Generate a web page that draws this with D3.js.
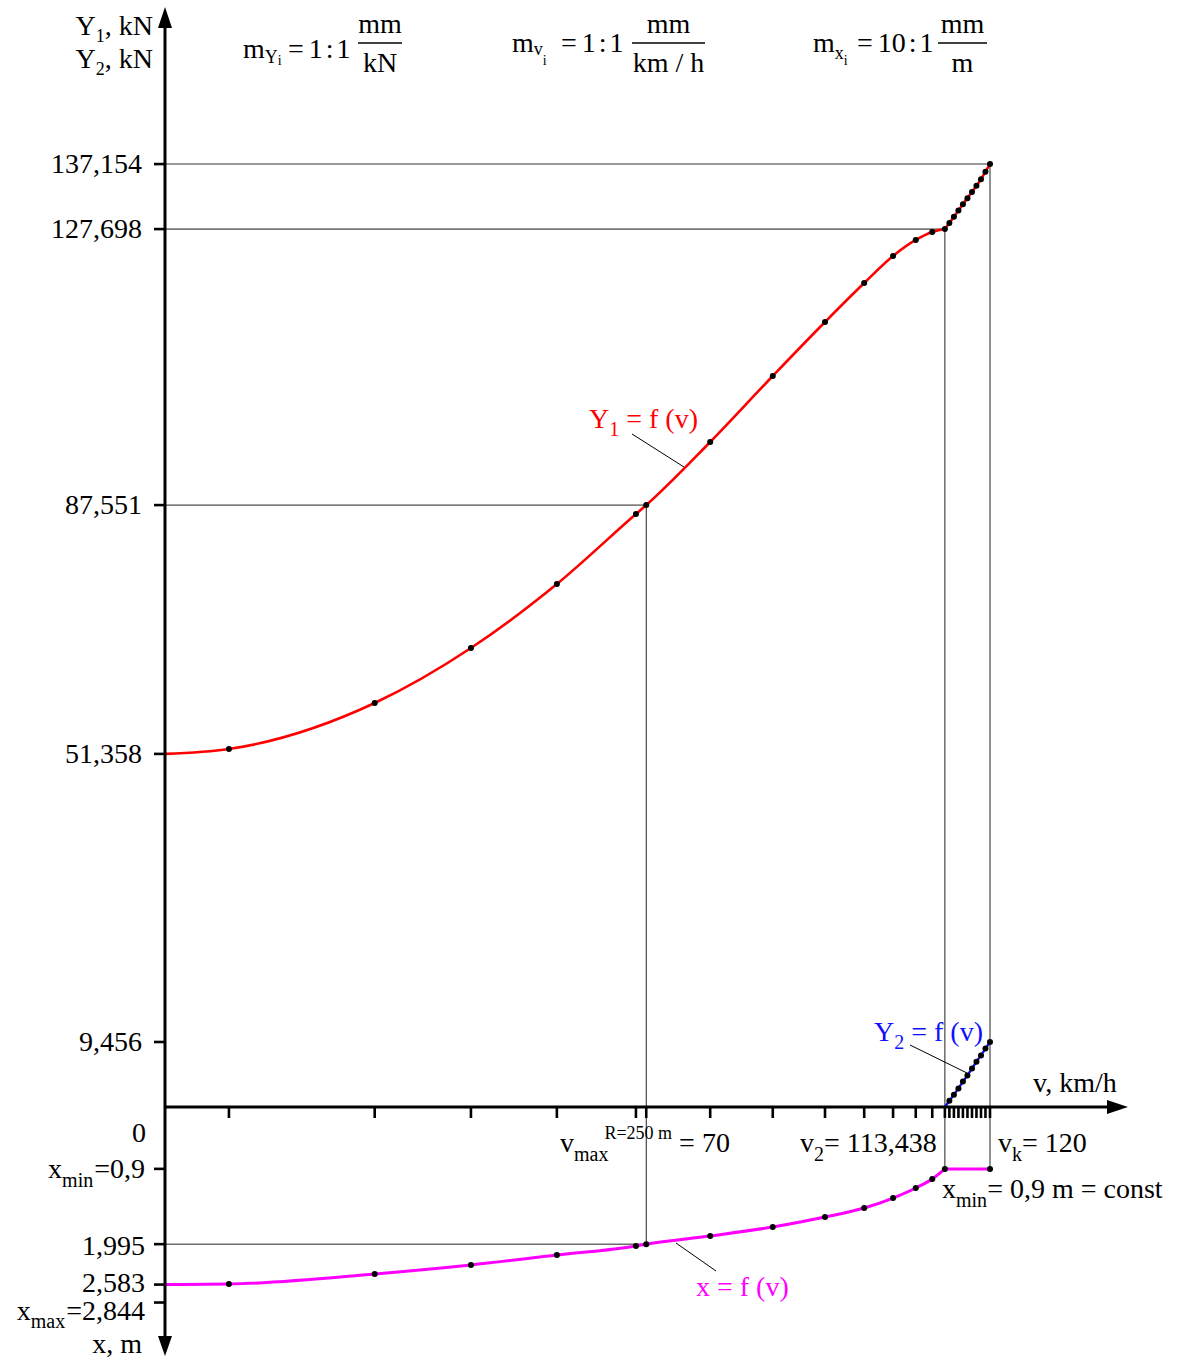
<!DOCTYPE html>
<html>
<head>
<meta charset="utf-8">
<script src="https://cdn.jsdelivr.net/npm/d3@7/dist/d3.min.js"></script>
<style>
  body { margin: 0; background: #fff; }
  svg text { font-family: "Liberation Serif", "DejaVu Serif", serif; font-size: 28px; white-space: pre; }
</style>
</head>
<body>
<svg width="1179" height="1360"></svg>
<script>
// speed points on the curves (km/h)
var speeds   = [0, 9.3, 30.5, 44.5, 57.0, 68.5, 70, 79.3, 88.4, 96.0, 101.7, 105.9, 109.2, 111.6, 113.438];
var y1Values = [51.358, 52.07, 58.76, 66.76, 76.07, 86.25, 87.551, 96.73, 106.33, 114.18, 119.85, 123.78, 126.11, 127.27, 127.698];
var xValues  = [2.583, 2.575, 2.429, 2.298, 2.153, 2.022, 1.995, 1.876, 1.745, 1.600, 1.469, 1.324, 1.178, 1.047, 0.9];

// last part, from v2 to vk
var speedsHigh = [113.438, 114.09, 114.75, 115.41, 116.06, 116.72, 117.38, 118.03, 118.69, 119.34, 120];
var y1High     = [127.698, 128.6, 129.5, 130.4, 131.3, 132.2, 133.1, 134.0, 134.95, 136.05, 137.154];
var y2High     = [0, 0.9, 1.8, 2.7, 3.7, 4.6, 5.6, 6.6, 7.5, 8.5, 9.456];
var xMin = 0.9;

// axis ticks
var yTicks = [9.456, 51.358, 87.551, 127.698, 137.154];
var yTickLabels = ["9,456", "51,358", "87,551", "127,698", "137,154"];
var xmTicks = [0.9, 1.995, 2.583, 2.844];

// Layout
var originX = 165, originY = 1107,
    pxPerUnit = 6.875;

var svg = d3.select("svg");

var vScale = d3.scaleLinear().domain([0, 120]).range([originX, originX + 120 * pxPerUnit]);
var yScale = d3.scaleLinear().domain([0, 137.154]).range([originY, originY - 137.154 * pxPerUnit]);
var xmScale = d3.scaleLinear().domain([0, 1]).range([originY, originY + 10 * pxPerUnit]);

// text with sub / superscripts
function rich(g, x, y, parts, anchor, color) {
  var t = g.append("text")
    .attr("x", x).attr("y", y)
    .attr("text-anchor", anchor || "start")
    .style("fill", color || "#000");
  var cur = 0;
  parts.forEach(function (p) {
    if (typeof p === "string") p = {t: p};
    var off = p.dy || 0;
    var ts = t.append("tspan").attr("dy", off - cur).text(p.t);
    if (p.size) ts.style("font-size", p.size + "px");
    if (p.dx) ts.attr("dx", p.dx);
    cur = off;
  });
  return t;
}

function fraction(g, x0, x1, yLine, top, bottom) {
  var cx = (x0 + x1) / 2;
  g.append("text").attr("x", cx).attr("y", yLine - 10).attr("text-anchor", "middle").text(top);
  g.append("line").attr("x1", x0).attr("x2", x1).attr("y1", yLine).attr("y2", yLine)
    .style("stroke", "#000").style("stroke-width", 1.3);
  g.append("text").attr("x", cx).attr("y", yLine + 29).attr("text-anchor", "middle").text(bottom);
}

// "a : b" written tight
function ratio(g, x, y, a, b) {
  rich(g, x, y, ["=", {t: a, dx: 5}, {t: ":", dx: 3}, {t: b, dx: 3}]);
}

// guide lines
var guides = svg.append("g").classed("guides", true);
function guide(x1, y1, x2, y2, color, w) {
  guides.append("line").attr("x1", x1).attr("y1", y1).attr("x2", x2).attr("y2", y2)
    .style("stroke", color).style("stroke-width", w);
}
var vEnd = speedsHigh[speedsHigh.length - 1], v2 = speeds[speeds.length - 1];
guide(originX, yScale(137.154), vScale(vEnd), yScale(137.154), "#777", 1.6);
guide(originX, yScale(127.698), vScale(v2), yScale(127.698), "#777", 1.6);
guide(originX, yScale(87.551), vScale(70), yScale(87.551), "#222", 1);
guide(vScale(vEnd), yScale(137.154), vScale(vEnd), xmScale(xMin), "#777", 1.6);
guide(vScale(v2), yScale(127.698), vScale(v2), xmScale(xMin), "#222", 1);
guide(vScale(70), yScale(87.551), vScale(70), xmScale(1.995), "#222", 1);
guide(originX, xmScale(1.995), vScale(70), xmScale(1.995), "#222", 1);

// curves
var lineMain = d3.line().curve(d3.curveMonotoneX);
var lineStraight = d3.line();

var y1Pts = speeds.map(function (v, i) { return [vScale(v), yScale(y1Values[i])]; });
var y1HighPts = speedsHigh.map(function (v, i) { return [vScale(v), yScale(y1High[i])]; });
var y2Pts = speedsHigh.map(function (v, i) { return [vScale(v), yScale(y2High[i])]; });
var xPts = speeds.map(function (v, i) { return [vScale(v), xmScale(xValues[i])]; });
var xHighPts = [[vScale(v2), xmScale(xMin)], [vScale(vEnd), xmScale(xMin)]];

var curves = svg.append("g").classed("curves", true).style("fill", "none");
curves.append("path").attr("d", lineMain(y1Pts)).style("stroke", "#ff0000").style("stroke-width", 2.6);
curves.append("path").attr("d", lineStraight(y1HighPts)).style("stroke", "#ff0000").style("stroke-width", 2.6);
curves.append("path").attr("d", lineStraight(y2Pts)).style("stroke", "#1010ff").style("stroke-width", 2.4);
curves.append("path").attr("d", lineMain(xPts)).style("stroke", "#ff00ff").style("stroke-width", 3);
curves.append("path").attr("d", lineStraight(xHighPts)).style("stroke", "#ff00ff").style("stroke-width", 3);

// dots
var dots = svg.append("g").classed("dots", true);
var allDots = y1Pts.slice(1).concat(y1HighPts.slice(1), y2Pts.slice(1), xPts.slice(1), [xHighPts[1]]);
dots.selectAll("circle").data(allDots).enter().append("circle")
  .attr("cx", function (d) { return d[0]; })
  .attr("cy", function (d) { return d[1]; })
  .attr("r", 3)
  .style("fill", "#000");

// axes
var axes = svg.append("g").classed("axes", true);
axes.append("line").attr("x1", originX).attr("x2", originX).attr("y1", 26).attr("y2", 1340)
  .style("stroke", "#000").style("stroke-width", 3);
axes.append("line").attr("x1", originX).attr("x2", 1110).attr("y1", originY).attr("y2", originY)
  .style("stroke", "#000").style("stroke-width", 3);
axes.append("path").attr("d", "M" + [originX, 7] + "L" + [originX - 7, 28] + "L" + [originX + 7, 28] + "Z");
axes.append("path").attr("d", "M" + [originX, 1356] + "L" + [originX - 7, 1336] + "L" + [originX + 7, 1336] + "Z");
axes.append("path").attr("d", "M" + [1128, originY] + "L" + [1107, originY - 7] + "L" + [1107, originY + 7] + "Z");

// v ticks
var vTicks = speeds.slice(1).concat(speedsHigh.slice(1));
axes.selectAll(".vtick").data(vTicks).enter().append("line")
  .classed("vtick", true)
  .attr("x1", function (d) { return vScale(d); }).attr("x2", function (d) { return vScale(d); })
  .attr("y1", originY).attr("y2", originY + 11)
  .style("stroke", "#000").style("stroke-width", 2.6);

// Y ticks
axes.selectAll(".ytick").data(yTicks).enter().append("line")
  .classed("ytick", true)
  .attr("x1", originX - 11).attr("x2", originX)
  .attr("y1", function (d) { return yScale(d); }).attr("y2", function (d) { return yScale(d); })
  .style("stroke", "#000").style("stroke-width", 2.6);
axes.selectAll(".ylabel").data(yTicks).enter().append("text")
  .classed("ylabel", true)
  .attr("x", 142)
  .attr("y", function (d) { return yScale(d) + 9; })
  .attr("text-anchor", "end")
  .text(function (d, i) { return yTickLabels[i]; });

// x (m) ticks
axes.selectAll(".xmtick").data(xmTicks).enter().append("line")
  .classed("xmtick", true)
  .attr("x1", originX - 11).attr("x2", originX)
  .attr("y1", function (d) { return xmScale(d); }).attr("y2", function (d) { return xmScale(d); })
  .style("stroke", "#000").style("stroke-width", 2.6);

var labels = svg.append("g").classed("labels", true);
var S = 18, SS = 14;

// axis names
rich(labels, 153, 35, ["Y", {t: "1", dy: 7, size: S}, {t: ", kN", dy: 0}], "end");
rich(labels, 153, 68, ["Y", {t: "2", dy: 7, size: S}, {t: ", kN", dy: 0}], "end");
rich(labels, 1033, 1092, ["v, km/h"]);
rich(labels, 142, 1353, ["x, m"], "end");

// lower left labels
rich(labels, 146, 1142, ["0"], "end");
rich(labels, 145, 1178, ["x", {t: "min", dy: 9, size: 20}, {t: "=0,9", dy: 0, dx: 1}], "end");
rich(labels, 145, 1293, ["1,995"], "end").attr("y", 1255);
rich(labels, 145, 1292, ["2,583"], "end");
rich(labels, 145, 1320, ["x", {t: "max", dy: 8, size: 20}, {t: "=2,844", dy: 0, dx: 1}], "end");

// scale headers
rich(labels, 243, 58, ["m", {t: "Y", dy: 5, size: S}, {t: "i", dy: 7, size: SS}]);
ratio(labels, 288, 58, "1", "1");
fraction(labels, 358, 402, 43, "mm", "kN");

rich(labels, 512, 52, ["m", {t: "v", dy: 3, size: S}, {t: "i", dy: 13, size: SS}]);
ratio(labels, 561, 52, "1", "1");
fraction(labels, 632, 705, 43, "mm", "km / h");

rich(labels, 813, 52, ["m", {t: "x", dy: 7, size: S}, {t: "i", dy: 13, size: SS}]);
ratio(labels, 857, 52, "10", "1");
fraction(labels, 938, 987, 43, "mm", "m");

// speed labels under axis
rich(labels, 560, 1152, ["v", {t: "max", dy: 9, size: 20}, {t: "R=250 m", dy: -13, size: 18, dx: -4}, {t: " = 70", dy: 0}]);
rich(labels, 800, 1152, ["v", {t: "2", dy: 9, size: 20}, {t: "= 113,438", dy: 0}]);
rich(labels, 998, 1152, ["v", {t: "k", dy: 9, size: 20}, {t: "= 120", dy: 0}]);
rich(labels, 942, 1198, ["x", {t: "min", dy: 9, size: 20}, {t: "= 0,9 m = const", dy: 0}]);

// curve names with leaders
rich(labels, 589, 428, ["Y", {t: "1", dy: 8, size: 20}, {t: " = f (v)", dy: 0}], "start", "#ff0000");
guide(632, 434, 684, 467, "#000", 1);
rich(labels, 874, 1041, ["Y", {t: "2", dy: 8, size: 20}, {t: " = f (v)", dy: 0}], "start", "#1010ff");
guide(910, 1045, 967, 1073, "#000", 1);
rich(labels, 696, 1296, ["x = f (v)"], "start", "#ff00ff");
guide(676, 1243, 716, 1271, "#000", 1);
</script>
</body>
</html>
